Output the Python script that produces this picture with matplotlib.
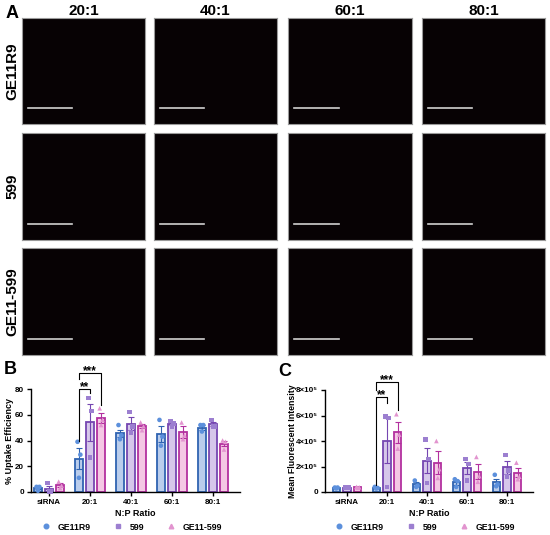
import numpy as np
import matplotlib
matplotlib.use('Agg')
import matplotlib.pyplot as plt
from matplotlib.lines import Line2D

plt.rcParams['font.family'] = ['Liberation Sans', 'DejaVu Sans']
plt.rcParams['font.weight'] = 'bold'

W, H = 550, 535

# ---- data ----
ratios = ['20:1', '40:1', '60:1', '80:1']
peptides = ['GE11R9', '599', 'GE11-599']
categories = ['siRNA', '20:1', '40:1', '60:1', '80:1']

# % uptake efficiency (panel B)
uptake_mean_ge11r9 = [3, 26, 45.5, 45, 50]
uptake_sem_ge11r9 = [1, 8.5, 3, 6.5, 2]
uptake_pts_ge11r9 = [[4, 4, 1], [39, 29, 11], [52, 44, 41], [56, 43, 36], [52, 52, 47]]
uptake_mean_599 = [2.7, 54, 53, 53, 52.5]
uptake_sem_599 = [2.3, 14, 5, 1, 1.5]
uptake_pts_599 = [[7, 0.5, 0.5], [73, 63, 27], [62, 51, 46], [55, 53, 51], [56, 51, 51]]
uptake_mean_g599 = [5.5, 57.5, 51, 46.5, 37.5]
uptake_sem_g599 = [1.5, 4, 1.5, 4.5, 2]
uptake_pts_g599 = [[8, 5, 3], [65, 56, 52], [54, 51, 48], [54, 44, 41], [40, 39, 33]]

# mean fluorescent intensity, x10^5 (panel C)
mfi_mean_ge11r9 = [0.33, 0.33, 0.6, 0.75, 0.8]
mfi_sem_ge11r9 = [0.03, 0.04, 0.15, 0.18, 0.25]
mfi_pts_ge11r9 = [[0.35, 0.35, 0.28], [0.4, 0.32, 0.27], [0.9, 0.5, 0.4], [1.0, 0.85, 0.4], [1.35, 0.6, 0.45]]
mfi_mean_599 = [0.35, 4.03, 2.47, 1.9, 1.93]
mfi_sem_599 = [0.02, 1.75, 1.0, 0.45, 0.5]
mfi_pts_599 = [[0.37, 0.35, 0.33], [5.9, 5.8, 0.4], [4.1, 2.6, 0.7], [2.6, 2.2, 0.9], [2.9, 1.7, 1.2]]
mfi_mean_g599 = [0.37, 4.67, 2.3, 1.6, 1.5]
mfi_sem_g599 = [0.03, 0.83, 0.9, 0.6, 0.35]
mfi_pts_g599 = [[0.4, 0.37, 0.33], [6.1, 4.5, 3.4], [4.0, 1.8, 1.1], [2.75, 1.25, 0.8], [2.3, 1.2, 1.0]]

fills = ['#bacdec', '#d6c7ea', '#f4c8e4']
edges = ['#2f63b1', '#7546b1', '#b3309f']
dots = ['#5c90dc', '#9c7fd0', '#e294cf']
markers = ['o', 's', '^']

fig = plt.figure(figsize=(W / 100, H / 100), dpi=100)


def px_axes(x0, y0, x1, y1):
    return fig.add_axes([x0 / W, 1 - y1 / H, (x1 - x0) / W, (y1 - y0) / H])


# ---- panel A: image grid ----
col_x = [(22, 145), (154, 277), (288, 412), (422, 545)]
row_y = [(18, 124), (133, 240), (248, 355)]
for r, (y0, y1) in enumerate(row_y):
    for c, (x0, x1) in enumerate(col_x):
        ax = px_axes(x0, y0, x1, y1)
        ax.set_facecolor('#070204')
        ax.set_xticks([])
        ax.set_yticks([])
        for s in ax.spines.values():
            s.set_color('#9a9a9a')
            s.set_linewidth(0.8)
        ax.set_xlim(0, 1)
        ax.set_ylim(0, 1)
        ax.plot([0.045, 0.41], [0.15, 0.15], color='#d0d0d0', lw=1.2)
        if r == 0:
            fig.text((x0 + x1) / 2 / W, 1 - 11 / H, ratios[c], ha='center', va='center',
                     fontsize=11, fontweight='bold')
    fig.text(12 / W, 1 - (y0 + y1) / 2 / H, peptides[r], ha='center', va='center',
             rotation=90, fontsize=11, fontweight='bold')

fig.text(12 / W, 1 - 13 / H, 'A', ha='center', va='center', fontsize=13, fontweight='bold')
fig.text(10 / W, 1 - 370 / H, 'B', ha='center', va='center', fontsize=13, fontweight='bold')
fig.text(285 / W, 1 - 371 / H, 'C', ha='center', va='center', fontsize=13, fontweight='bold')

offsets = [-0.27, 0.0, 0.27]
pt_spread = [-0.035, 0.035, 0.0]
x = np.arange(len(categories))


def bar_panel(ax, means, sems, pts, scale):
    for k in range(3):
        xs = x + offsets[k]
        m = np.array(means[k]) * scale
        e = np.array(sems[k]) * scale
        ax.bar(xs, m, width=0.18, color=fills[k], edgecolor=edges[k], linewidth=1.3, zorder=2)
        ax.errorbar(xs, m, yerr=e, fmt='none', ecolor=edges[k], elinewidth=0.8,
                    capsize=2, capthick=0.8, zorder=3)
        for i, p in enumerate(pts[k]):
            for j, v in enumerate(p):
                ax.scatter(xs[i] + pt_spread[j], v * scale, s=11, marker=markers[k],
                           color=dots[k], edgecolors='none', zorder=4, clip_on=False)
    for s in ['top', 'right']:
        ax.spines[s].set_visible(False)
    for s in ['left', 'bottom']:
        ax.spines[s].set_linewidth(1.0)
    ax.set_xticks(x)
    ax.set_xticklabels(categories, fontsize=5.8, fontweight='bold')
    ax.tick_params(axis='both', length=3, width=1.0, pad=2, labelsize=5.8)
    ax.set_xlabel('N:P Ratio', fontsize=6.5, fontweight='bold', labelpad=2)


def bracket(ax, xl, xr, y, yl, yr, label):
    ax.plot([xl, xl, xr, xr], [yl, y, y, yr], color='black', lw=0.8, clip_on=False, zorder=5)
    ax.annotate(label, ((xl + xr) / 2, y), xytext=(0, -0.5), textcoords='offset points',
                ha='center', va='baseline', fontsize=8.5, fontweight='bold',
                annotation_clip=False)


# ---- panel B ----
axb = px_axes(31, 389, 240, 492)
bar_panel(axb, [uptake_mean_ge11r9, uptake_mean_599, uptake_mean_g599],
          [uptake_sem_ge11r9, uptake_sem_599, uptake_sem_g599],
          [uptake_pts_ge11r9, uptake_pts_599, uptake_pts_g599], 1)
axb.set_xlim(-0.44, 4.66)
axb.set_ylim(0, 80)
axb.set_yticks([0, 20, 40, 60, 80])
for lab in axb.get_yticklabels():
    lab.set_fontweight('bold')
axb.set_ylabel('% Uptake Efficiency', fontsize=6.5, fontweight='bold')
axb.yaxis.set_label_coords(-0.08, 0.5)
bracket(axb, 1 - 0.27, 1.0, 80, 40, 77, '**')
bracket(axb, 1 - 0.27, 1.27, 92.4, 88, 67.5, '***')

# ---- panel C ----
axc = px_axes(325, 390, 533, 492)
bar_panel(axc, [mfi_mean_ge11r9, mfi_mean_599, mfi_mean_g599],
          [mfi_sem_ge11r9, mfi_sem_599, mfi_sem_g599],
          [mfi_pts_ge11r9, mfi_pts_599, mfi_pts_g599], 1e5)
axc.set_xlim(-0.55, 4.65)
axc.set_ylim(0, 8e5)
axc.set_yticks([0, 2e5, 4e5, 6e5, 8e5])
axc.set_yticklabels(['0', '2×10⁵', '4×10⁵', '6×10⁵', '8×10⁵'], fontsize=5.8, fontweight='bold')
axc.set_ylabel('Mean Fluorescent Intensity', fontsize=6.3, fontweight='bold')
axc.yaxis.set_label_coords(-0.135, 0.5)
bracket(axc, 1 - 0.27, 1.0, 7.45e5, 0.55e5, 7.0e5, '**')
bracket(axc, 1 - 0.27, 1.27, 8.6e5, 8.0e5, 6.4e5, '***')

# ---- legends ----
handles = [Line2D([], [], linestyle='none', marker=markers[k], color=dots[k], markersize=3.3)
           for k in range(3)]
for cx in [132, 425]:
    fig.legend(handles, peptides, loc='center', bbox_to_anchor=(cx / W, 1 - 527 / H),
               ncol=3, frameon=False, handletextpad=0.8, columnspacing=2.6,
               handlelength=1.0, borderaxespad=0, prop={'weight': 'bold', 'size': 6.3})

fig.savefig('out.png', dpi=100)
